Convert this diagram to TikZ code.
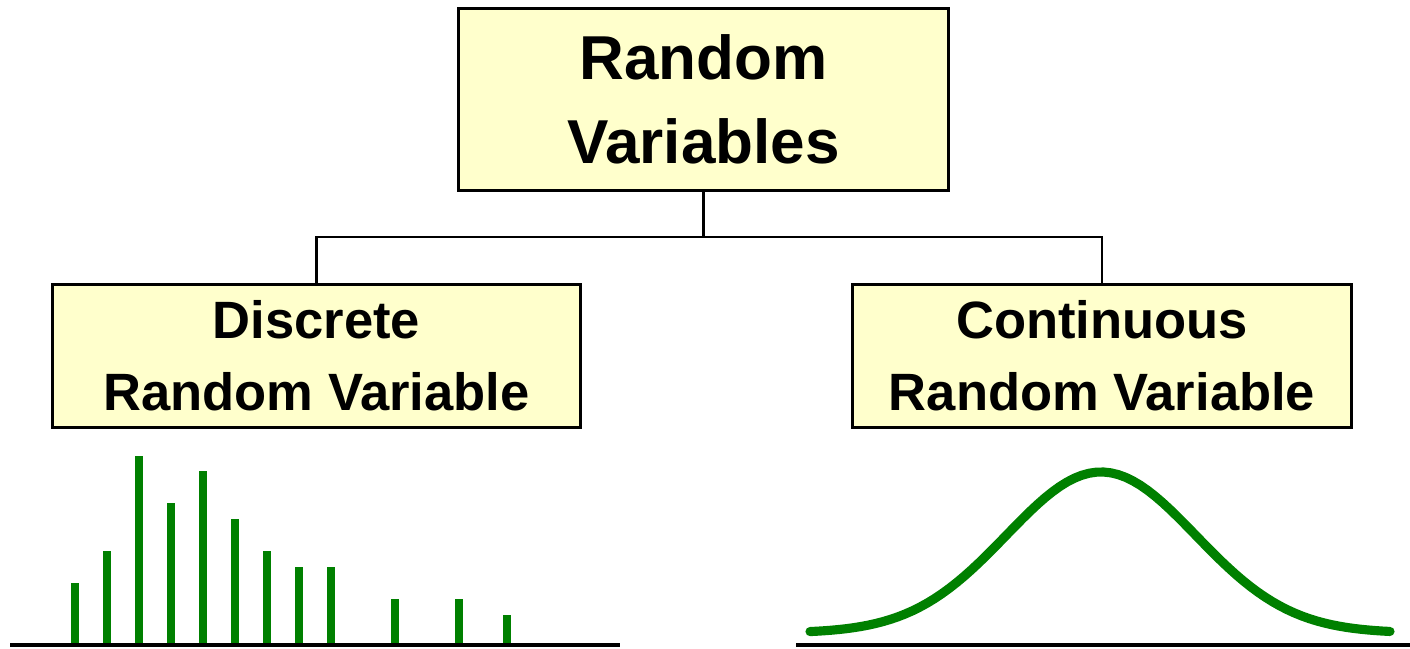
\documentclass[tikz,border=0pt]{standalone}
\usepackage{fontspec}
\setmainfont{Liberation Sans}
\definecolor{boxfill}{RGB}{255,255,204}
\definecolor{plotgreen}{RGB}{0,128,0}

\begin{document}
\begin{tikzpicture}[x=0.02cm,y=-0.02cm,
	box/.style={draw,line width=1.7pt,fill=boxfill,inner sep=0pt,align=center},
	big/.style={font=\fontsize{35.3}{47.8}\selectfont\bfseries},
	small/.style={font=\fontsize{29.9}{41}\selectfont\bfseries},
	link/.style={line width=1.5pt},
	axis/.style={line width=2.3pt},
	bar/.style={plotgreen,line width=4pt},
	curve/.style={plotgreen,line width=5.2pt,line cap=round,line join=round}]
					\useasboundingbox (0,0) rectangle (1410,649);
					\node[box,big,minimum width=9.82cm,minimum height=3.66cm] (rv) at (703.5,99.5) {Random\\Variables};
					\node[box,small,minimum width=10.58cm,minimum height=2.88cm] (discrete) at (316.5,356) {Discrete\\Random Variable};
					\node[box,small,minimum width=10cm,minimum height=2.88cm] (continuous) at (1102,356) {Continuous\\Random Variable};
					\coordinate (split) at (703.5,237);
					\draw[link] (rv.south) -- (split);
					\draw[link] (split) -| (discrete.north);
					\draw[link] (split) -| (continuous.north);
					\foreach \x/\h in {75/583,107/551,139/456,171/503,203/471,235/519,267/551,299/567,331/567,395/599,459/599,507/615}
						\draw[bar] (\x,645) -- (\x,\h);
					\coordinate (da) at (10,645);
					\coordinate (db) at (620,645);
					\draw[axis] (da) -- (db);
					\draw[curve] plot[domain=810:1390,samples=80] (\x,{633-161*exp(-((\x-1101)/134)^2)});
					\coordinate (ca) at (796,645);
					\coordinate (cb) at (1410,645);
					\draw[axis] (ca) -- (cb);
				\end{tikzpicture}
\end{document}
